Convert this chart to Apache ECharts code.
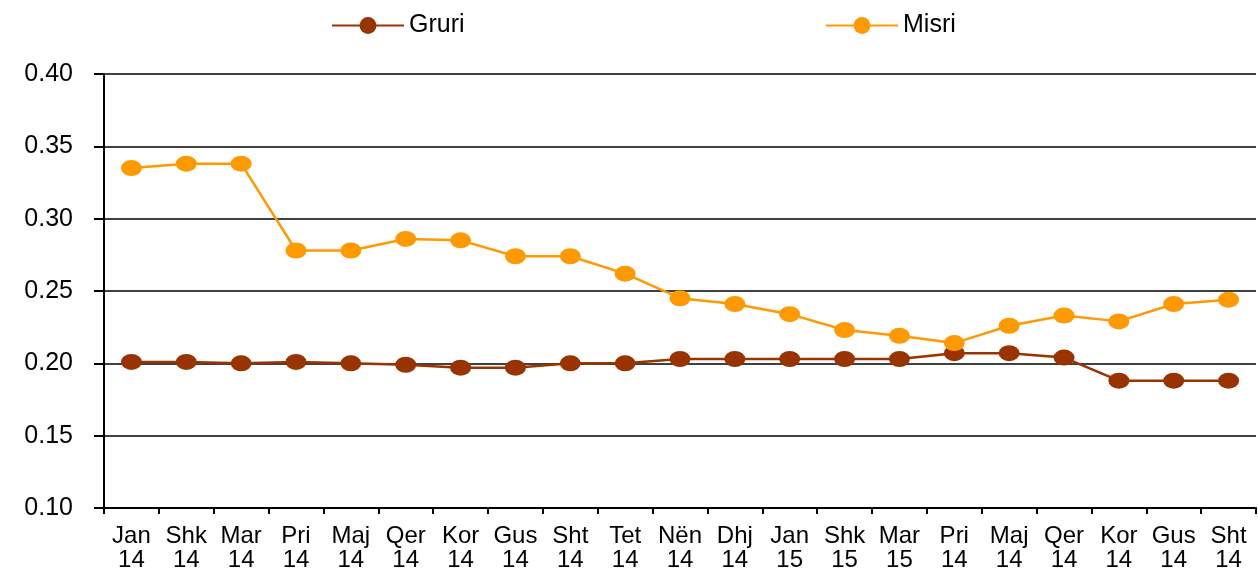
<!DOCTYPE html>
<html>
<head>
<meta charset="utf-8">
<script src="https://cdn.jsdelivr.net/npm/echarts@6/dist/echarts.min.js"></script>
<style>
  html, body { margin: 0; padding: 0; background: #fff; }
  #holder { width: 1258px; height: 572px; }
</style>
</head>
<body>
<div id="holder"></div>
<script>
var months = ['Jan\n14', 'Shk\n14', 'Mar\n14', 'Pri\n14', 'Maj\n14', 'Qer\n14', 'Kor\n14',
  'Gus\n14', 'Sht\n14', 'Tet\n14', 'Nën\n14', 'Dhj\n14', 'Jan\n15', 'Shk\n15', 'Mar\n15',
  'Pri\n14', 'Maj\n14', 'Qer\n14', 'Kor\n14', 'Gus\n14', 'Sht\n14']

// gruri
var gruri = [0.201, 0.201, 0.200, 0.201, 0.200, 0.199, 0.197, 0.197, 0.200, 0.200, 0.203,
  0.203, 0.203, 0.203, 0.203, 0.207, 0.207, 0.204, 0.188, 0.188, 0.188]

// misri
var misri = [0.335, 0.338, 0.338, 0.278, 0.278, 0.286, 0.285, 0.274, 0.274, 0.262, 0.245,
  0.241, 0.234, 0.223, 0.219, 0.214, 0.226, 0.233, 0.229, 0.241, 0.244]

var yTicks = [0.10, 0.15, 0.20, 0.25, 0.30, 0.35, 0.40]

var font = 'Liberation Sans, Arial, sans-serif'

var myChart = echarts.init(document.getElementById('holder'))

var legendBase = {
  top: 8,
  itemWidth: 72,
  itemHeight: 21,
  itemGap: 7,
  textStyle: { fontFamily: font, fontSize: 25, color: '#000' }
}

var option = {
  animation: false,
  legend: [
    Object.assign({}, legendBase, { left: 326, data: ['Gruri'] }),
    Object.assign({}, legendBase, { left: 820, data: ['Misri'] })
  ],
  grid: { left: 104, right: 2, top: 74, bottom: 60 },
  xAxis: {
    type: 'category',
    data: months,
    boundaryGap: true,
    axisLine: { lineStyle: { color: '#000', width: 2 } },
    axisTick: { show: true, length: 6, lineStyle: { color: '#000', width: 2 } },
    axisLabel: {
      interval: 0, margin: 16, color: '#000',
      fontFamily: font, fontSize: 24, lineHeight: 24
    }
  },
  yAxis: {
    type: 'value',
    min: yTicks[0],
    max: yTicks[yTicks.length - 1],
    interval: 0.05,
    axisLine: { show: true, lineStyle: { color: '#000', width: 2 } },
    axisTick: { show: true, length: 10, lineStyle: { color: '#000', width: 2 } },
    splitLine: { lineStyle: { color: '#000', width: 1.5 } },
    axisLabel: {
      margin: 31, color: '#000', fontFamily: font, fontSize: 25,
      formatter: v => v.toFixed(2)
    }
  },
  series: [
    {
      name: 'Gruri',
      type: 'line',
      data: gruri,
      symbol: 'circle',
      symbolSize: [21, 16],
      itemStyle: { color: '#993300' },
      lineStyle: { color: '#993300', width: 2.5 }
    },
    {
      name: 'Misri',
      type: 'line',
      data: misri,
      symbol: 'circle',
      symbolSize: [21, 16],
      itemStyle: { color: '#FF9900' },
      lineStyle: { color: '#FF9900', width: 2.5 }
    }
  ]
}

myChart.setOption(option)
</script>
</body>
</html>
